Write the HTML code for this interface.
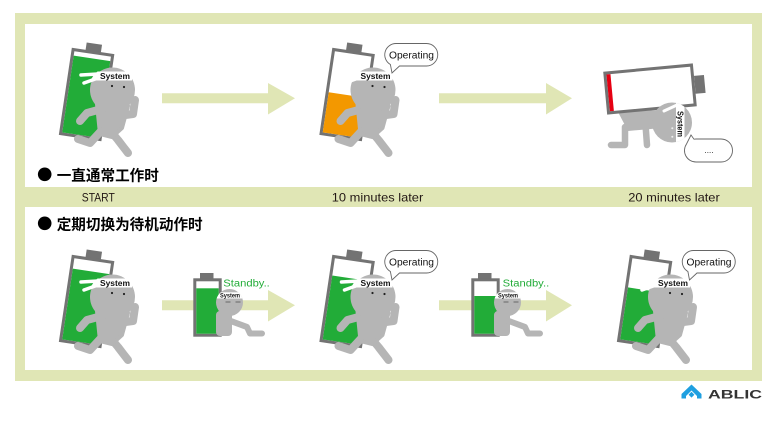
<!DOCTYPE html>
<html><head><meta charset="utf-8"><style>
html,body{margin:0;padding:0;background:#fff;}
svg{display:block;}
text{font-family:"Liberation Sans","Noto Sans CJK SC",sans-serif;}
</style></head><body>
<svg width="778" height="424" viewBox="0 0 778 424" xmlns="http://www.w3.org/2000/svg">
<defs>
<clipPath id="hc"><circle cx="112.5" cy="90" r="23.8"/></clipPath>
<clipPath id="hc2"><circle cx="672" cy="122.5" r="20"/></clipPath>
<clipPath id="hc3"><circle cx="229.5" cy="302.5" r="13.5"/></clipPath>
</defs>
<rect width="778" height="424" fill="#fff"/>
<!-- frame -->
<rect x="15" y="13" width="747" height="368" fill="#e0e6b5"/>
<rect x="25" y="24" width="727" height="163" fill="#fff"/>
<rect x="25" y="207" width="727" height="163" fill="#fff"/>

<!-- labels in band -->
<g font-size="12" fill="#231815">
<text x="98.3" y="201.5" text-anchor="middle" textLength="33" lengthAdjust="spacingAndGlyphs">START</text>
<text x="377.5" y="201.5" text-anchor="middle" textLength="91.5" lengthAdjust="spacingAndGlyphs">10 minutes later</text>
<text x="674" y="201.5" text-anchor="middle" textLength="91.5" lengthAdjust="spacingAndGlyphs">20 minutes later</text>
</g>

<!-- headings -->
<circle cx="44.7" cy="174.3" r="6.8" fill="#000"/>
<text x="56.7" y="180.5" font-size="14.6" font-weight="bold" fill="#000">一直通常工作时</text>
<circle cx="44.7" cy="223.3" r="6.8" fill="#000"/>
<text x="56.7" y="229.5" font-size="14.6" font-weight="bold" fill="#000">定期切换为待机动作时</text>

<!-- arrows -->
<g fill="#e0e6b5">
<polygon points="162,93.3 268,93.3 268,83 295,98.3 268,114.5 268,103.3 162,103.3"/>
<polygon points="439,93.3 546,93.3 546,83 572,98.3 546,114.5 546,103.3 439,103.3"/>
<polygon points="162,300.3 268,300.3 268,290 295,305.3 268,321.5 268,310.3 162,310.3"/>
<polygon points="439,300.3 546,300.3 546,290 572,305.3 546,321.5 546,310.3 439,310.3"/>
</g>

<!-- ===== running character row1 col1 ===== -->
<g transform="translate(0,0)">
 <g transform="rotate(8.5 86.6 94.5)">
  <rect x="79" y="43" width="15.5" height="9" fill="#737373"/>
  <rect x="66.6" y="52" width="40" height="85" fill="#fff" stroke="#737373" stroke-width="3"/>
  <rect x="68.1" y="58" width="37" height="77.5" fill="#22ac38"/>
 </g>
 <g fill="none" stroke="#b5b5b5" stroke-width="8" stroke-linecap="round" stroke-linejoin="round">
  <polyline points="98,110 87,113 80,121"/>
  <polyline points="118,116 133,114 135,100"/>
  <polyline points="102,130 90,143 78,139"/>
  <polyline points="108,128 118,140 128,153"/>
 </g>
 <path d="M97,104 L128,106 L122,128 L112,137 L100,134 Z" fill="#b5b5b5" stroke="#b5b5b5" stroke-width="4" stroke-linejoin="round"/>
 <circle cx="112.5" cy="90" r="22.5" fill="#b5b5b5"/>
 <rect x="88" y="71.5" width="44" height="9" fill="#fff" clip-path="url(#hc)"/>
 <g stroke="#fff" stroke-width="3.5" stroke-linecap="round"><line x1="98" y1="74" x2="81" y2="75"/><line x1="98" y1="78" x2="84" y2="83"/></g>
 <text x="115" y="79" font-size="8.5" font-weight="bold" text-anchor="middle" textLength="30" lengthAdjust="spacingAndGlyphs" fill="#111">System</text>
 <circle cx="112" cy="86" r="1.1" fill="#222"/><circle cx="124" cy="87" r="1.1" fill="#222"/>
</g>

<!-- ===== running character row1 col2 (orange) ===== -->
<g transform="translate(260.5,0)">
 <g transform="rotate(8.5 86.6 94.5)">
  <rect x="79" y="43" width="15.5" height="9" fill="#737373"/>
  <rect x="66.6" y="52" width="40" height="85" fill="#fff" stroke="#737373" stroke-width="3"/>
  <rect x="68.1" y="95" width="37" height="40.5" fill="#f39800"/>
 </g>
 <g fill="none" stroke="#b5b5b5" stroke-width="8" stroke-linecap="round" stroke-linejoin="round">
  <polyline points="98,110 87,113 80,121"/>
  <polyline points="118,116 133,114 135,100"/>
  <polyline points="102,130 90,143 78,139"/>
  <polyline points="108,128 118,140 128,153"/>
 </g>
 <path d="M97,104 L128,106 L122,128 L112,137 L100,134 Z" fill="#b5b5b5" stroke="#b5b5b5" stroke-width="4" stroke-linejoin="round"/>
 <circle cx="112.5" cy="90" r="22.5" fill="#b5b5b5"/>
 <rect x="88" y="71.5" width="44" height="9" fill="#fff" clip-path="url(#hc)"/>
 <g stroke="#fff" stroke-width="3.5" stroke-linecap="round"><line x1="98" y1="74" x2="81" y2="75"/><line x1="98" y1="78" x2="84" y2="83"/></g>
 <text x="115" y="79" font-size="8.5" font-weight="bold" text-anchor="middle" textLength="30" lengthAdjust="spacingAndGlyphs" fill="#111">System</text>
 <circle cx="112" cy="86" r="1.1" fill="#222"/><circle cx="124" cy="87" r="1.1" fill="#222"/>
 <path d="M135.5,43.5 H166 A11.25,11.25 0 0 1 166,66 H139 L131.5,73 L129.9,64.5 A11.25,11.25 0 0 1 135.5,43.5 Z" fill="#fff" stroke="#666" stroke-width="0.9"/>
 <text x="151" y="58.5" font-size="10" text-anchor="middle" textLength="45" lengthAdjust="spacingAndGlyphs" fill="#111">Operating</text>
</g>

<!-- ===== collapsed character row1 col3 ===== -->
<g>
 <path d="M618,112 L660,110 L662,128 L628,131 Z" fill="#b5b5b5"/>
 <g fill="none" stroke="#b5b5b5" stroke-width="6.5" stroke-linecap="round" stroke-linejoin="round">
  <polyline points="625,127 625,145 611,145"/>
  <polyline points="645,118 647,145"/>
 </g>
 <g transform="rotate(-5.3 650 89)">
  <rect x="695" y="80" width="10" height="18" fill="#737373"/>
  <rect x="606.5" y="69" width="87" height="40" fill="#fff" stroke="#737373" stroke-width="3"/>
  <rect x="608" y="70.5" width="4" height="37" fill="#e60012"/>
 </g>
 <circle cx="672" cy="122.5" r="20" fill="#b5b5b5"/>
 <rect x="676" y="100" width="8.5" height="46" fill="#fff" clip-path="url(#hc2)"/>
 <line x1="677" y1="105" x2="664" y2="111" stroke="#fff" stroke-width="3" stroke-linecap="round"/>
 <text x="680.5" y="124" transform="rotate(90 680.5 124)" dy="2.8" font-size="8" font-weight="bold" text-anchor="middle" textLength="26" lengthAdjust="spacingAndGlyphs" fill="#111">System</text>
 <circle cx="672.3" cy="128.3" r="1" fill="#eee"/><circle cx="672.3" cy="136.7" r="1" fill="#eee"/>
 <path d="M696,139 H721 A11.5,11.5 0 0 1 721,162 H696 A11.5,11.5 0 0 1 686.5,144 L691,135 L694,139.2 Z" fill="#fff" stroke="#666" stroke-width="0.9"/>
 <text x="709" y="153" font-size="8" text-anchor="middle" fill="#111">....</text>
</g>

<!-- ===== running character row2 col1 ===== -->
<g transform="translate(0,207)">
 <g transform="rotate(8.5 86.6 94.5)">
  <rect x="79" y="43" width="15.5" height="9" fill="#737373"/>
  <rect x="66.6" y="52" width="40" height="85" fill="#fff" stroke="#737373" stroke-width="3"/>
  <rect x="68.1" y="64" width="37" height="71.5" fill="#22ac38"/>
 </g>
 <g fill="none" stroke="#b5b5b5" stroke-width="8" stroke-linecap="round" stroke-linejoin="round">
  <polyline points="98,110 87,113 80,121"/>
  <polyline points="118,116 133,114 135,100"/>
  <polyline points="102,130 90,143 78,139"/>
  <polyline points="108,128 118,140 128,153"/>
 </g>
 <path d="M97,104 L128,106 L122,128 L112,137 L100,134 Z" fill="#b5b5b5" stroke="#b5b5b5" stroke-width="4" stroke-linejoin="round"/>
 <circle cx="112.5" cy="90" r="22.5" fill="#b5b5b5"/>
 <rect x="88" y="71.5" width="44" height="9" fill="#fff" clip-path="url(#hc)"/>
 <g stroke="#fff" stroke-width="3.5" stroke-linecap="round"><line x1="98" y1="74" x2="81" y2="75"/><line x1="98" y1="78" x2="84" y2="83"/></g>
 <text x="115" y="79" font-size="8.5" font-weight="bold" text-anchor="middle" textLength="30" lengthAdjust="spacingAndGlyphs" fill="#111">System</text>
 <circle cx="112" cy="86" r="1.1" fill="#222"/><circle cx="124" cy="87" r="1.1" fill="#222"/>
</g>

<!-- ===== running character row2 col2 ===== -->
<g transform="translate(260.5,207)">
 <g transform="rotate(8.5 86.6 94.5)">
  <rect x="79" y="43" width="15.5" height="9" fill="#737373"/>
  <rect x="66.6" y="52" width="40" height="85" fill="#fff" stroke="#737373" stroke-width="3"/>
  <rect x="68.1" y="71" width="37" height="64.5" fill="#22ac38"/>
 </g>
 <g fill="none" stroke="#b5b5b5" stroke-width="8" stroke-linecap="round" stroke-linejoin="round">
  <polyline points="98,110 87,113 80,121"/>
  <polyline points="118,116 133,114 135,100"/>
  <polyline points="102,130 90,143 78,139"/>
  <polyline points="108,128 118,140 128,153"/>
 </g>
 <path d="M97,104 L128,106 L122,128 L112,137 L100,134 Z" fill="#b5b5b5" stroke="#b5b5b5" stroke-width="4" stroke-linejoin="round"/>
 <circle cx="112.5" cy="90" r="22.5" fill="#b5b5b5"/>
 <rect x="88" y="71.5" width="44" height="9" fill="#fff" clip-path="url(#hc)"/>
 <g stroke="#fff" stroke-width="3.5" stroke-linecap="round"><line x1="98" y1="74" x2="81" y2="75"/><line x1="98" y1="78" x2="84" y2="83"/></g>
 <text x="115" y="79" font-size="8.5" font-weight="bold" text-anchor="middle" textLength="30" lengthAdjust="spacingAndGlyphs" fill="#111">System</text>
 <circle cx="112" cy="86" r="1.1" fill="#222"/><circle cx="124" cy="87" r="1.1" fill="#222"/>
 <path d="M135.5,43.5 H166 A11.25,11.25 0 0 1 166,66 H139 L131.5,73 L129.9,64.5 A11.25,11.25 0 0 1 135.5,43.5 Z" fill="#fff" stroke="#666" stroke-width="0.9"/>
 <text x="151" y="58.5" font-size="10" text-anchor="middle" textLength="45" lengthAdjust="spacingAndGlyphs" fill="#111">Operating</text>
</g>

<!-- ===== running character row2 col3 ===== -->
<g transform="translate(558,207)">
 <g transform="rotate(8.5 86.6 94.5)">
  <rect x="79" y="43" width="15.5" height="9" fill="#737373"/>
  <rect x="66.6" y="52" width="40" height="85" fill="#fff" stroke="#737373" stroke-width="3"/>
  <rect x="68.1" y="83" width="37" height="52.5" fill="#22ac38"/>
 </g>
 <g fill="none" stroke="#b5b5b5" stroke-width="8" stroke-linecap="round" stroke-linejoin="round">
  <polyline points="98,110 87,113 80,121"/>
  <polyline points="118,116 133,114 135,100"/>
  <polyline points="102,130 90,143 78,139"/>
  <polyline points="108,128 118,140 128,153"/>
 </g>
 <path d="M97,104 L128,106 L122,128 L112,137 L100,134 Z" fill="#b5b5b5" stroke="#b5b5b5" stroke-width="4" stroke-linejoin="round"/>
 <circle cx="112.5" cy="90" r="22.5" fill="#b5b5b5"/>
 <rect x="88" y="71.5" width="44" height="9" fill="#fff" clip-path="url(#hc)"/>
 <g stroke="#fff" stroke-width="3.5" stroke-linecap="round"><line x1="98" y1="74" x2="81" y2="75"/><line x1="98" y1="78" x2="84" y2="83"/></g>
 <text x="115" y="79" font-size="8.5" font-weight="bold" text-anchor="middle" textLength="30" lengthAdjust="spacingAndGlyphs" fill="#111">System</text>
 <circle cx="112" cy="86" r="1.1" fill="#222"/><circle cx="124" cy="87" r="1.1" fill="#222"/>
 <path d="M135.5,43.5 H166 A11.25,11.25 0 0 1 166,66 H139 L131.5,73 L129.9,64.5 A11.25,11.25 0 0 1 135.5,43.5 Z" fill="#fff" stroke="#666" stroke-width="0.9"/>
 <text x="151" y="58.5" font-size="10" text-anchor="middle" textLength="45" lengthAdjust="spacingAndGlyphs" fill="#111">Operating</text>
</g>

<!-- ===== standby 1 ===== -->
<g>
 <rect x="200" y="273" width="13.5" height="6.5" fill="#737373"/>
 <rect x="194.8" y="279.8" width="25.4" height="55.4" fill="#fff" stroke="#737373" stroke-width="3"/>
 <rect x="196.3" y="288.3" width="22.4" height="45.4" fill="#22ac38"/>
 <rect x="216" y="311" width="16" height="25" rx="4" fill="#b5b5b5"/>
 <polyline points="228,320 247,327 250,333.5 262,333.5" fill="none" stroke="#b5b5b5" stroke-width="6" stroke-linecap="round" stroke-linejoin="round"/>
 <circle cx="229.5" cy="302.5" r="13.5" fill="#b5b5b5"/>
 <rect x="214" y="292.3" width="32" height="6.2" fill="#fff" clip-path="url(#hc3)"/>
 <text x="230" y="297.6" font-size="6" font-weight="bold" text-anchor="middle" textLength="20" lengthAdjust="spacingAndGlyphs" fill="#111">System</text>
 <g stroke="#555" stroke-width="0.8"><line x1="225.5" y1="302" x2="230.5" y2="302"/><line x1="235.5" y1="302" x2="240.5" y2="302"/></g>
 <text x="223.3" y="286.5" font-size="10" textLength="46.5" lengthAdjust="spacingAndGlyphs" fill="#22ac38">Standby..</text>
</g>

<!-- ===== standby 2 ===== -->
<g transform="translate(278,0)">
 <rect x="200" y="273" width="13.5" height="6.5" fill="#737373"/>
 <rect x="194.8" y="279.8" width="25.4" height="55.4" fill="#fff" stroke="#737373" stroke-width="3"/>
 <rect x="196.3" y="296" width="22.4" height="37.7" fill="#22ac38"/>
 <rect x="216" y="311" width="16" height="25" rx="4" fill="#b5b5b5"/>
 <polyline points="228,320 247,327 250,333.5 262,333.5" fill="none" stroke="#b5b5b5" stroke-width="6" stroke-linecap="round" stroke-linejoin="round"/>
 <circle cx="229.5" cy="302.5" r="13.5" fill="#b5b5b5"/>
 <rect x="214" y="292.3" width="32" height="6.2" fill="#fff" clip-path="url(#hc3)"/>
 <text x="230" y="297.6" font-size="6" font-weight="bold" text-anchor="middle" textLength="20" lengthAdjust="spacingAndGlyphs" fill="#111">System</text>
 <g stroke="#555" stroke-width="0.8"><line x1="225.5" y1="302" x2="230.5" y2="302"/><line x1="235.5" y1="302" x2="240.5" y2="302"/></g>
 <text x="224.7" y="286.5" font-size="10" textLength="46.5" lengthAdjust="spacingAndGlyphs" fill="#22ac38">Standby..</text>
</g>

<!-- ABLIC logo -->
<polygon points="681.5,394 691.5,384.5 701.5,394 701.5,398.5 697,398.5 697,396 691.5,390.5 686,396 686,398.5 681.5,398.5" fill="#1e9fe0"/>
<polygon points="691.5,391.8 694.4,394.7 691.5,397.6 688.6,394.7" fill="#1e9fe0"/>
<text x="708" y="398.5" font-size="11.5" font-weight="bold" textLength="54" lengthAdjust="spacingAndGlyphs" fill="#333">ABLIC</text>
</svg>
</body></html>
